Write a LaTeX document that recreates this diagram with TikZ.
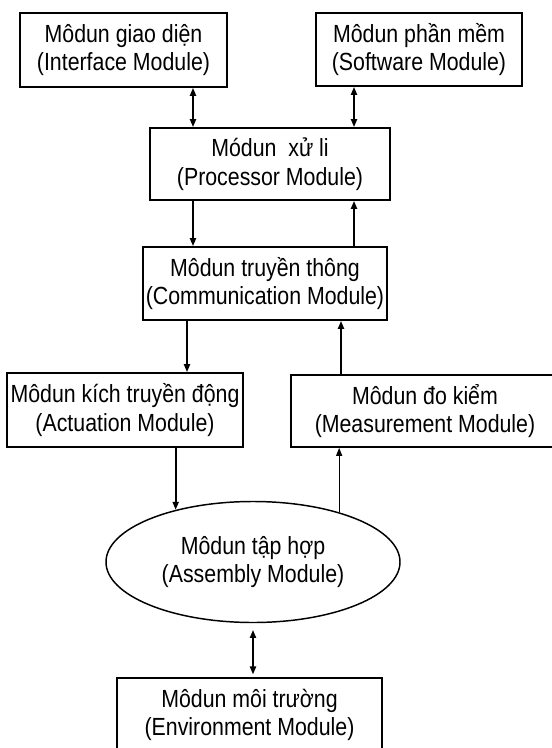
\documentclass[tikz,border=0pt]{standalone}
\usepackage{fontspec}
\setmainfont[FakeStretch=0.86]{Liberation Sans}
\usetikzlibrary{shapes.geometric,arrows.meta}
\begin{document}
\begin{tikzpicture}[x=0.75pt,y=-0.75pt,
  modbox/.style={draw,rectangle,line width=1.3pt,inner sep=0pt,align=center,
    font=\fontsize{18.6}{21.5}\selectfont},
  modell/.style={draw,ellipse,line width=1.1pt,inner sep=0pt,align=center,
    font=\fontsize{18.6}{21.5}\selectfont},
  arr/.style={line width=1.4pt,-{Triangle[length=6pt,width=4.5pt]}},
  dbl/.style={line width=1.4pt,{Triangle[length=6pt,width=4.5pt]}-{Triangle[length=6pt,width=4.5pt]}},
  thinarr/.style={line width=0.8pt,-{Triangle[length=6pt,width=4.5pt]}}]
\useasboundingbox (0,0) rectangle (552,748);
\clip (0,0) rectangle (552,748);
\fill[white] (0,0) rectangle (552,748);

\node[modbox,minimum width=155.25pt,minimum height=55.5pt] (iface) at (123.5,50)
  {Môdun giao diện\\(Interface Module)};
\node[modbox,minimum width=154.5pt,minimum height=54.75pt] (soft) at (419,49.5)
  {Môdun phần mềm\\(Software Module)};
\node[modbox,minimum width=180pt,minimum height=54pt] (proc) at (270,164)
  {Módun\ \ xử li\\(Processor Module)};
\node[modbox,minimum width=183pt,minimum height=54.75pt] (comm) at (265,283.5)
  {Môdun truyền thông\\(Communication Module)};
\node[modbox,minimum width=177pt,minimum height=55.5pt] (act) at (125,410)
  {Môdun kích truyền động\\(Actuation Module)};
\node[modbox,minimum width=201pt,minimum height=54pt] (meas) at (425,411)
  {Môdun đo kiểm\\(Measurement Module)};
\node[modell,minimum width=220.5pt,minimum height=90.75pt] (asm) at (253,562)
  {Môdun tập hợp\\(Assembly Module)};
\node[modbox,minimum width=198.75pt,minimum height=55.5pt] (env) at (249.5,715)
  {Môdun môi trường\\(Environment Module)};

\coordinate (xa) at (193,0);
\coordinate (xb) at (354,0);
\coordinate (xc) at (187,0);
\coordinate (xd) at (341,0);
\coordinate (xe) at (253,0);

\draw[dbl] (iface.south -| xa) -- (proc.north -| xa);
\draw[dbl] (soft.south -| xb) -- (proc.north -| xb);
\draw[arr] (proc.south -| xa) -- (comm.north -| xa);
\draw[arr] (comm.north -| xb) -- (proc.south -| xb);
\draw[arr] (comm.south -| xc) -- (act.north -| xc);
\draw[arr] (meas.north -| xd) -- (comm.south -| xd);
\draw[arr] (asm.146 |- act.south) -- (asm.146);
\draw[thinarr] (asm.30) -- (asm.30 |- meas.south);
\draw[dbl,shorten <=5pt,shorten >=2pt] (asm.south -| xe) -- (env.north -| xe);
\end{tikzpicture}
\end{document}
